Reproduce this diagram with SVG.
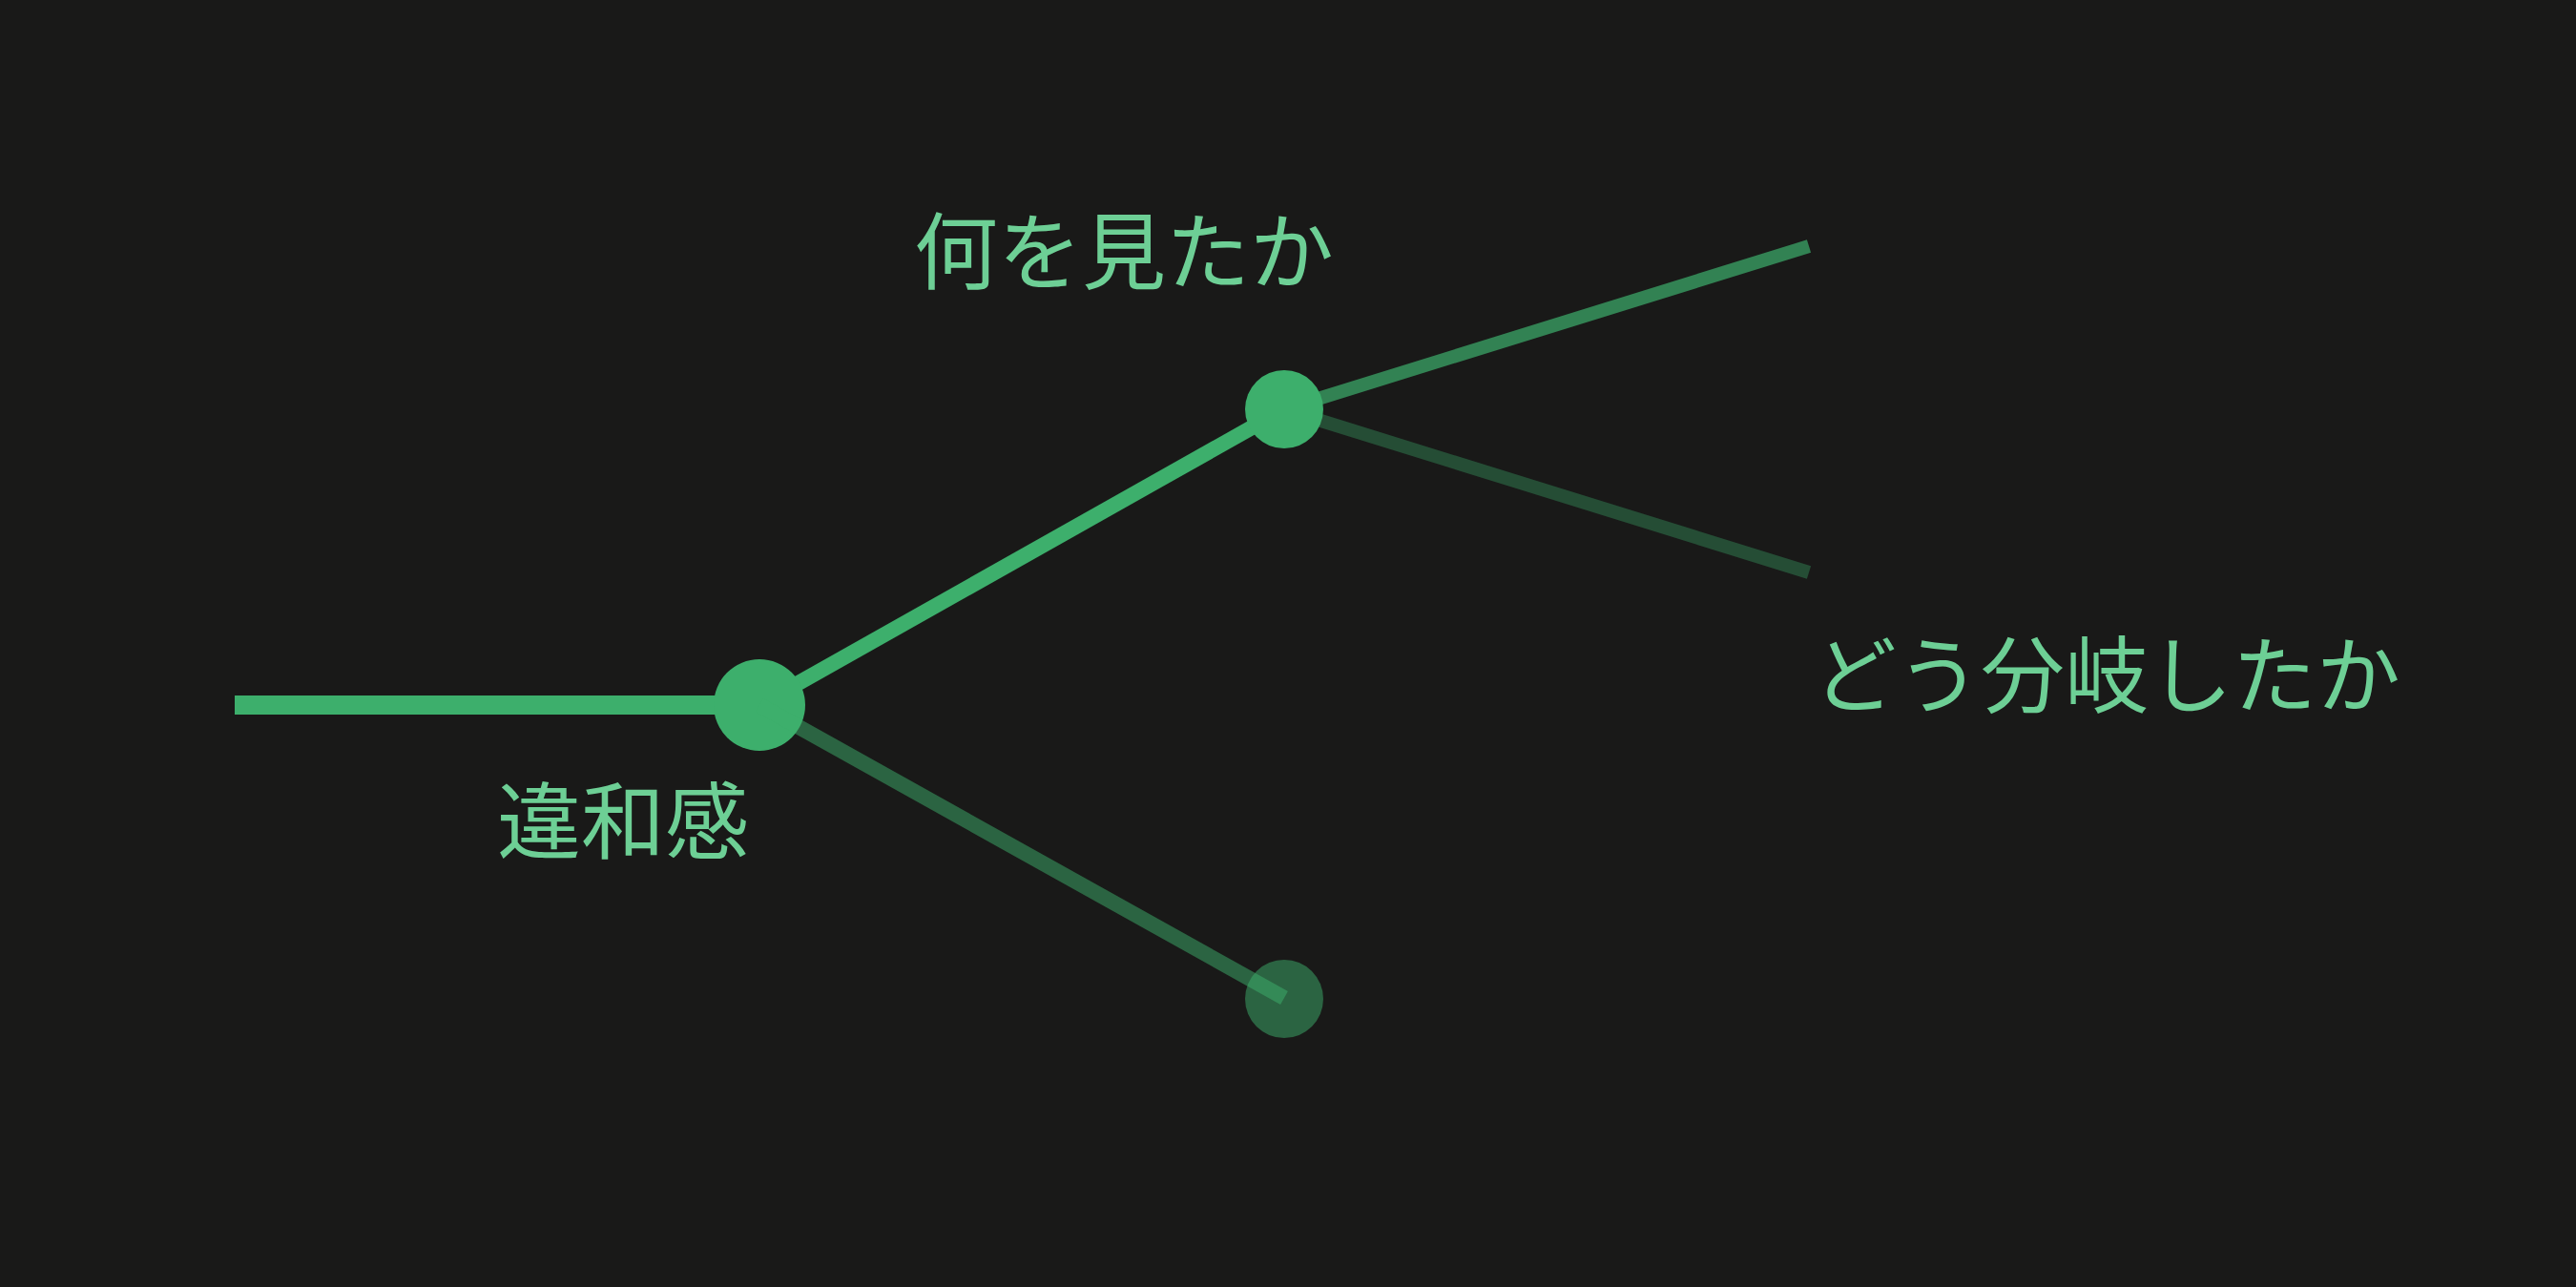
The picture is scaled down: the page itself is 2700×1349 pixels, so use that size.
<svg xmlns="http://www.w3.org/2000/svg" width="2700" height="1349" viewBox="0 0 2700 1349">
<style>
.lbl{font-family:"Noto Sans CJK JP","Noto Sans CJK SC",sans-serif;font-size:88px;fill:#6dcf95}
.ln{stroke:#3daf6c;fill:none;stroke-linecap:butt}
</style>
<rect width="2700" height="1349" fill="#191918"/>
<g id="connectors">
<line class="ln" x1="246" y1="739" x2="796" y2="739" stroke-width="20"/>
<line class="ln" x1="796" y1="739" x2="1346" y2="429" stroke-width="16"/>
<line class="ln" x1="1346" y1="429" x2="1896" y2="258" stroke-width="14" stroke-opacity="0.7"/>
<line class="ln" x1="1346" y1="429" x2="1896" y2="600" stroke-width="14" stroke-opacity="0.35"/>
</g>
<g id="node-iwakan">
<circle cx="796" cy="739" r="48" fill="#3daf6c"/>
<text class="lbl" x="521" y="893">違和感</text>
</g>
<g id="node-nani">
<circle cx="1346" cy="429" r="41" fill="#3daf6c"/>
<text class="lbl" x="958" y="296">何を見たか</text>
</g>
<g id="node-dead">
<circle cx="1346" cy="1047" r="41" fill="#3daf6c" fill-opacity="0.5"/>
</g>
<g id="connectors-over">
<line class="ln" x1="796" y1="739" x2="1346" y2="1046" stroke-width="16" stroke-opacity="0.5"/>
</g>
<g id="label-bunki">
<text class="lbl" x="1900" y="740">どう分岐したか</text>
</g>
</svg>
